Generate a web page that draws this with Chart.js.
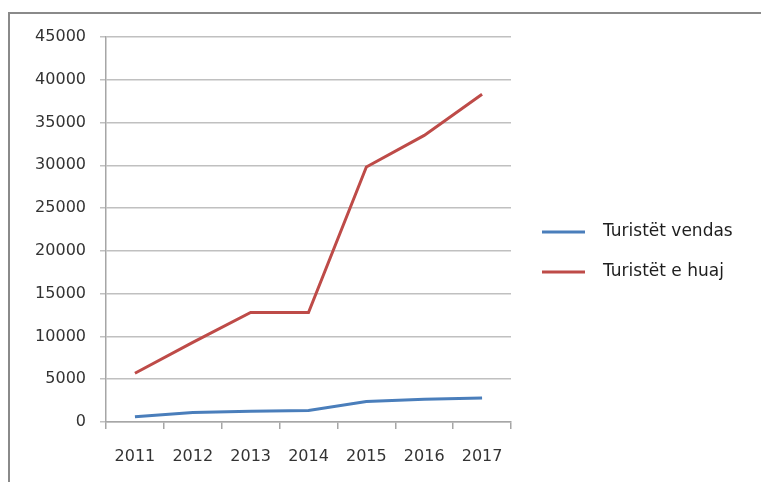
<!DOCTYPE html>
<html>
<head>
<meta charset="utf-8">
<script src="https://cdn.jsdelivr.net/npm/chart.js@4/dist/chart.umd.min.js"></script>
<style>
    html, body { margin: 0; padding: 0; background: #fff; }
    #wrap { position: relative; width: 761px; height: 482px; overflow: hidden; }
    #frame { position: absolute; left: 8px; top: 12px; width: 760px; height: 480px;
             border-top: 2px solid #8a8a8a; border-left: 2px solid #8a8a8a; }
    canvas { position: absolute; left: 0; top: 0; }
</style>
</head>
<body>
<div id="wrap">
    <div id="frame"></div>
    <canvas id="tourists" width="761" height="482"></canvas>
</div>
<script>
/* ---------- data ---------- */
const years = ['2011', '2012', '2013', '2014', '2015', '2016', '2017'];
const domestic = [600, 1100, 1250, 1350, 2400, 2650, 2800];       // Turistët vendas
const foreign = [5700, 9300, 12800, 12800, 29800, 33500, 38300];   // Turistët e huaj
const seriesNames = ['Turistët vendas', 'Turistët e huaj'];
const seriesColors = ['#4a7ebb', '#be4b48'];

const FONT = 'DejaVu Sans';

// legend drawn by hand on the right side, line + label
const sideLegend = {
    id: 'sideLegend',
    afterDraw(chart) {
        const ctx = chart.ctx;
        ctx.save();
        ctx.font = '17px "' + FONT + '"';
        ctx.textBaseline = 'middle';
        chart.data.datasets.forEach((ds, i) => {
            const y = 232 + i * 40;
            ctx.strokeStyle = ds.borderColor;
            ctx.lineWidth = 3;
            ctx.beginPath();
            ctx.moveTo(542, y);
            ctx.lineTo(585, y);
            ctx.stroke();
            ctx.fillStyle = '#1e1e1e';
            ctx.fillText(ds.label, 603, y);
        });
        ctx.restore();
    }
};

new Chart(document.getElementById('tourists'), {
    type: 'line',
    data: {
        labels: years,
        datasets: [
            { label: seriesNames[0], data: domestic, borderColor: seriesColors[0], backgroundColor: seriesColors[0] },
            { label: seriesNames[1], data: foreign, borderColor: seriesColors[1], backgroundColor: seriesColors[1] }
        ]
    },
    options: {
        responsive: false,
        animation: false,
        layout: { padding: { left: 0, top: 37, right: 250, bottom: 0 } },
        elements: {
            line: { borderWidth: 3, tension: 0 },
            point: { radius: 0 }
        },
        plugins: {
            legend: { display: false },
            tooltip: { enabled: false }
        },
        scales: {
            x: {
                offset: true,
                grid: { offset: true, drawOnChartArea: false, drawTicks: true, tickLength: 7, color: '#a6a6a6', lineWidth: 1.5 },
                border: { color: '#a6a6a6', width: 1.5 },
                ticks: { color: '#333', padding: 18, maxRotation: 0, font: { family: FONT, size: 16 } },
                afterFit: s => { s.height = 60; }
            },
            y: {
                min: 0, max: 45000,
                ticks: { stepSize: 5000, color: '#333', padding: 14, font: { family: FONT, size: 16 },
                         callback: v => String(v) },
                grid: { color: '#c0c0c0', lineWidth: 1.5, tickLength: 6 },
                border: { color: '#a6a6a6', width: 1.5 },
                afterFit: s => { s.width = 106; }
            }
        }
    },
    plugins: [sideLegend]
});
</script>
</body>
</html>
